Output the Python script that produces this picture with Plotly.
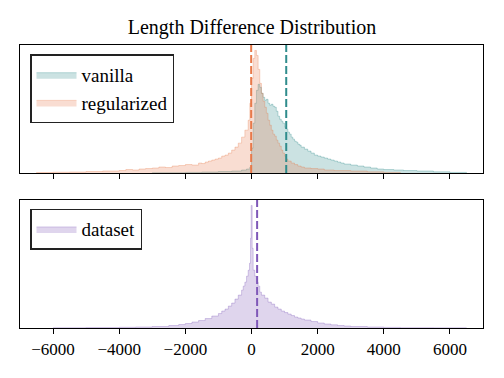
import plotly.graph_objects as go
from plotly.subplots import make_subplots

# ---- data (bin edges and heights, arbitrary units) ----
van_edges = [-3000, -2000, -1500, -1000, -600, -300, -150, -50, 0, 50, 100, 150, 200, 250, 300,
             350, 400, 450, 500, 550, 600, 650, 700, 750, 800, 850, 900, 950, 1000, 1050,
             1100, 1150, 1200, 1250, 1300, 1350, 1400, 1450, 1500, 1600, 1700, 1800, 1900,
             2000, 2100, 2200, 2300, 2400, 2500, 2600, 2700, 2800, 3000, 3200, 3400, 3600,
             3800, 4000, 4300, 4600, 5000, 5500, 6000, 6500]
van_counts = [0.3, 0.6, 1, 1.5, 2, 3, 4, 6, 25, 50, 70, 83, 89, 86, 80,
              76, 73, 74, 70, 68, 69, 67, 66, 62, 57, 54, 52, 50, 46, 44,
              41, 39, 36, 34, 32, 31, 29, 28, 26, 24, 22, 20, 18,
              17, 16, 15, 14, 13, 12, 11, 10, 9, 8, 7, 6, 5,
              4, 3.5, 3, 2.5, 2, 1.2, 0.6]

reg_edges = [-6500, -6000, -5500, -5000, -4500, -4000, -3800, -3600, -3400, -3200, -3000,
             -2800, -2600, -2400, -2200, -2000, -1800, -1600, -1500, -1400, -1300, -1200,
             -1100, -1000, -900, -800, -700, -600, -500, -400, -300, -200, -100, -50, 0,
             50, 100, 150, 200, 250, 300, 350, 400, 450, 500, 550, 600, 650, 700, 750, 800,
             850, 900, 950, 1000, 1050, 1100, 1200, 1300, 1400, 1500, 1600, 1800, 2000,
             2200, 2500, 3000, 3500, 4000, 4500]
reg_counts = [0.5, 0.8, 1, 1.5, 2, 2.5, 3.5, 3, 4, 4.5,
              5, 6, 5.5, 7, 7.5, 8.5, 8, 10, 9.5, 11, 12,
              13, 14, 15, 17, 18, 20, 23, 26, 30, 36, 43, 53, 70,
              95, 115, 123, 118, 104, 90, 80, 72, 66, 60, 53, 48, 43, 39, 37, 33,
              30, 27, 23, 20, 17, 14, 12, 10, 8.5, 7, 6, 5, 4.5,
              4, 3, 2.5, 2, 1.2, 0.6]

data_edges = [-6000, -5000, -4000, -3500, -3000, -2500, -2200, -2000, -1800, -1600, -1400,
              -1200, -1000, -900, -800, -700, -600, -500, -400, -300, -250, -200, -150,
              -100, -60, -30, -10, 20, 50, 100, 150, 200, 250, 300, 400, 500, 600, 700,
              800, 900, 1000, 1100, 1200, 1300, 1400, 1500, 1600, 1800, 2000, 2200, 2400,
              2600, 2800, 3000, 3500, 4000, 4500, 5500, 6500]
data_counts = [0.2, 0.4, 0.7, 1, 1.5, 2.5, 3.5, 4.5, 6, 7.5,
               9.5, 12, 14.5, 17, 19, 22, 25, 29, 33, 38, 42, 46,
               52, 58, 65, 90, 123, 80, 58, 52, 46, 42, 36, 33, 30, 26, 24,
               21, 19, 17, 15.5, 14, 12.5, 11, 10, 9, 8, 6.5, 5, 4, 3.2,
               2.5, 2, 1.5, 1, 0.6, 0.3, 0.15]

van_mean = 1050
reg_mean = -10
data_mean = 170

x_ticks = [-6000, -4000, -2000, 0, 2000, 4000, 6000]
x_tick_text = ["\u22126000", "\u22124000", "\u22122000", "0", "2000", "4000", "6000"]
title_text = "Length Difference Distribution"

# ---- styling ----
FONT = "Liberation Serif"
TEAL = (47, 140, 140)
ORANGE = (232, 121, 74)
PURPLE = (127, 88, 184)


def rgba(c, a):
    return f"rgba({c[0]},{c[1]},{c[2]},{a})"


def step_xy(edges, counts):
    xs = [edges[0]] + list(edges)
    ys = [0] + list(counts) + [0]
    return xs, ys


fig = make_subplots(rows=2, cols=1, shared_xaxes=False, vertical_spacing=0.0953)

for edges, counts, name, col, row, leg in [
    (van_edges, van_counts, "vanilla", TEAL, 1, "legend"),
    (reg_edges, reg_counts, "regularized", ORANGE, 1, "legend"),
    (data_edges, data_counts, "dataset", PURPLE, 2, "legend2"),
]:
    xs, ys = step_xy(edges, counts)
    fig.add_trace(go.Scatter(
        x=xs, y=ys, mode="lines", line_shape="hv", name=name,
        fill="tozeroy", fillcolor=rgba(col, 0.25),
        line=dict(color=rgba(col, 0.3), width=1),
        legend=leg,
    ), row=row, col=1)

for m, col, row in [(van_mean, TEAL, 1), (reg_mean, ORANGE, 1), (data_mean, PURPLE, 2)]:
    fig.add_shape(type="line", x0=m, x1=m, y0=0, y1=1, yref=f"y{'' if row == 1 else row} domain",
                  xref=f"x{'' if row == 1 else row}",
                  line=dict(color=rgba(col, 1), width=2, dash="8px,3px"))

axis_common = dict(showline=True, linecolor="black", linewidth=1.2, mirror=True,
                   showgrid=False, zeroline=False, automargin=False)
fig.update_xaxes(range=[-7000, 7000], tickvals=x_ticks, ticktext=x_tick_text,
                 ticks="outside", ticklen=5, tickwidth=1, tickcolor="black",
                 tickfont=dict(family=FONT, size=17, color="black"), **axis_common)
fig.update_xaxes(showticklabels=False, row=1, col=1)
fig.update_yaxes(range=[0, 128.5], showticklabels=False, ticks="", **axis_common)

legend_common = dict(xanchor="left", yanchor="top", bordercolor="#222", borderwidth=1.5,
                     bgcolor="white", font=dict(family=FONT, size=19), itemwidth=40,
                     tracegroupgap=0)
fig.update_layout(
    width=504, height=378,
    margin=dict(l=20, r=21, t=45, b=50, autoexpand=False),
    paper_bgcolor="white", plot_bgcolor="white",
    title=dict(text=title_text, x=0.5, xanchor="center", y=1 - 27 / 378, yanchor="middle",
               yref="container", font=dict(family=FONT, size=20, color="black")),
    font=dict(family=FONT, size=17, color="black"),
    legend=dict(x=0.0216, y=0.967, **legend_common),
    legend2=dict(x=0.0216, y=0.422, **legend_common),
    showlegend=True,
)

fig.write_html("out.html", config={"displayModeBar": False},
               post_script="document.body.style.margin='0';document.body.style.padding='0';")
